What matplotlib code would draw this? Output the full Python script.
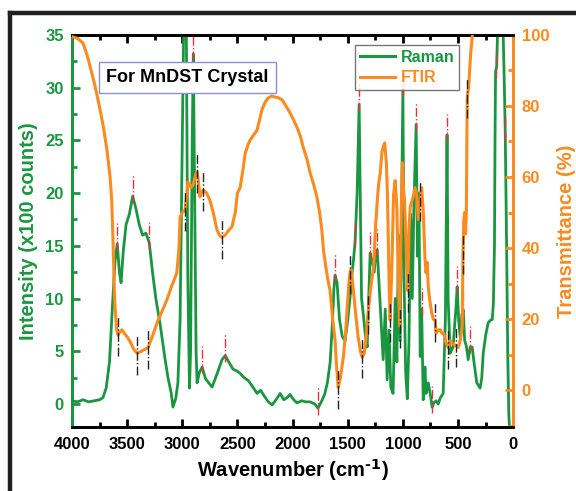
import numpy as np
import matplotlib
matplotlib.use("Agg")
import matplotlib.pyplot as plt
from matplotlib.lines import Line2D
from matplotlib.ticker import MultipleLocator

plt.rcParams['font.family'] = ['Liberation Sans', 'DejaVu Sans']
plt.rcParams['font.weight'] = 'bold'

GREEN = '#1b9640'
ORANGE = '#fb8a1f'

# Raman spectrum (wavenumber, intensity x100 counts)
raman_wn = [4000, 3950, 3900, 3850, 3800, 3750, 3720, 3690, 3660, 3635, 3610, 3590, 3570, 3555,
            3535, 3510, 3480, 3450, 3420, 3390, 3360, 3330, 3300, 3270, 3240, 3200, 3160, 3130,
            3100, 3085, 3060, 3040, 3020, 3000, 2985, 2965, 2950, 2935, 2925, 2910, 2900, 2890,
            2875, 2866, 2845, 2820, 2790, 2730, 2680, 2640, 2610, 2580, 2540, 2500, 2476, 2440,
            2400, 2360, 2322, 2290, 2260, 2220, 2186, 2150, 2113, 2080, 2050, 2023, 1990, 1960,
            1920, 1880, 1840, 1800, 1770, 1740, 1710, 1685, 1660, 1640, 1625, 1615, 1597, 1575,
            1550, 1524, 1500, 1478, 1460, 1445, 1433, 1415, 1397, 1385, 1375, 1360, 1340, 1324,
            1310, 1297, 1280, 1260, 1245, 1233, 1215, 1200, 1179, 1160, 1143, 1125, 1110, 1089,
            1070, 1055, 1040, 1025, 1010, 1000, 990, 975, 960, 945, 930, 915, 900, 880, 868, 855,
            843, 830, 816, 800, 790, 770, 750, 735, 720, 700, 680, 660, 635, 615, 600, 590, 572,
            545, 520, 508, 495, 481, 465, 453, 440, 425, 408, 390, 372, 355, 330, 300, 285, 272,
            250, 227, 200, 190, 180, 170, 165, 160, 150, 140, 130, 110, 95, 80, 72, 60, 50, 40, 30]
raman_int = [0.3, 0.2, 0.4, 0.2, 0.3, 0.4, 0.6, 1.5, 4.0, 9.0, 13.5, 15.2, 12.5, 11.5,
             14.5, 17.0, 18.0, 19.7, 18.5, 17.0, 16.0, 16.2, 15.3, 12.5, 10.0, 7.5, 4.5, 2.5,
             1.0, -0.3, 0.5, 2.0, 8.0, 25.0, 38.0, 38.0, 12.0, 1.5, 5.0, 25.0, 33.2, 22.0,
             5.0, 2.0, 3.0, 3.5, 2.4, 1.6, 3.0, 4.2, 4.6, 4.0, 3.3, 3.1, 2.9, 2.5,
             2.2, 1.6, 1.0, 1.3, 0.8, 0.2, -0.1, 0.4, 1.0, 0.4, 0.6, 0.9, 0.4, 0.1,
             0.3, 0.2, 0.2, 0.0, -0.4, 0.2, 0.9, 2.0, 3.9, 7.5, 11.0, 12.2, 11.5, 8.0,
             6.4, 6.0, 8.0, 10.2, 12.5, 14.0, 15.5, 20.0, 28.4, 18.0, 10.0, 8.6, 6.5, 5.4,
             10.0, 14.3, 13.6, 12.5, 14.6, 14.6, 11.1, 8.0, 4.2, 9.0, 2.3, 7.0, 1.6, 1.0,
             10.0, 4.0, 16.0, 6.0, 20.0, 29.8, 12.0, 3.0, 0.5, 6.0, 18.0, 10.0, 19.0, 26.5, 14.0, 20.0,
             4.5, 9.0, 0.4, 3.5, 1.0, 2.0, 0.8, -0.3, 0.1, 0.3, 0.0, 0.6, 1.0, 8.0, 25.5, 10.0, 4.8,
             5.4, 9.0, 11.1, 8.0, 6.4, 8.5, 8.9, 6.0, 5.5, 4.2, 5.4, 5.4, 3.9, 2.0, 1.5, 2.5, 4.8,
             6.5, 7.7, 8.0, 8.0, 9.5, 15.0, 25.0, 31.5, 32.0, 36.0, 38.0, 38.0, 37.0, 30.0, 25.5,
             15.0, 5.0, -1.0, -3.0]

# FTIR spectrum (wavenumber, transmittance %)
ftir_wn = [4000, 3950, 3900, 3860, 3810, 3780, 3746, 3715, 3683, 3655, 3640, 3628, 3618, 3610,
           3595, 3583, 3565, 3547, 3525, 3500, 3470, 3440, 3410, 3380, 3340, 3310, 3280, 3250,
           3220, 3180, 3140, 3100, 3050, 3030, 3020, 3000, 2975, 2960, 2950, 2935, 2920, 2900,
           2880, 2866, 2855, 2840, 2825, 2810, 2780, 2750, 2720, 2685, 2660, 2640, 2610, 2580,
           2550, 2520, 2500, 2476, 2450, 2430, 2405, 2385, 2350, 2322, 2300, 2277, 2250, 2222,
           2190, 2160, 2130, 2095, 2060, 2023, 1990, 1960, 1930, 1905, 1870, 1840, 1810, 1780,
           1755, 1735, 1720, 1700, 1680, 1660, 1640, 1615, 1600, 1587, 1570, 1555, 1540, 1520,
           1505, 1490, 1480, 1470, 1455, 1430, 1406, 1385, 1370, 1350, 1330, 1315, 1295, 1279,
           1265, 1250, 1234, 1220, 1206, 1190, 1179, 1165, 1150, 1140, 1125, 1116, 1100, 1085,
           1070, 1055, 1040, 1030, 1015, 1005, 995, 985, 965, 955, 945, 934, 920, 907, 890, 875,
           860, 843, 830, 815, 800, 790, 780, 770, 755, 740, 725, 708, 700, 690, 675, 662, 645,
           630, 610, 590, 570, 545, 520, 500, 480, 463, 455, 448, 440, 432, 425, 417, 405, 385,
           372, 365]
ftir_tr = [99.5, 99.0, 97.7, 94.0, 88.0, 84.0, 79.0, 74.0, 67.6, 60.0, 53.5, 42.0, 30.0, 23.4,
           17.0, 15.5, 16.5, 17.0, 16.0, 15.0, 13.5, 11.5, 10.4, 10.8, 11.5, 12.0, 14.5, 17.0,
           19.7, 22.5, 25.4, 29.0, 33.0, 40.0, 48.7, 50.0, 50.7, 55.0, 58.6, 58.0, 57.0, 58.0,
           60.5, 61.4, 59.0, 54.4, 55.8, 56.3, 55.5, 53.5, 50.0, 45.0, 43.5, 43.0, 43.7, 45.0,
           46.0, 50.0, 55.5, 57.0, 62.0, 66.7, 69.0, 70.4, 72.0, 73.2, 76.0, 79.0, 81.0, 82.2,
           82.8, 82.5, 82.3, 81.7, 80.0, 78.0, 76.0, 74.0, 71.5, 68.5, 65.0, 61.0, 58.0, 54.4,
           50.0, 45.0, 39.4, 35.0, 31.0, 28.0, 21.0, 14.0, 6.0, 0.8, 3.0, 6.0, 9.3, 16.0,
           23.4, 30.0, 33.0, 34.0, 30.0, 22.0, 15.0, 11.0, 9.3, 10.4, 16.0, 21.7, 28.0, 31.8,
           35.0, 45.0, 52.7, 58.0, 61.0, 67.0, 68.5, 69.6, 64.0, 55.0, 30.0, 19.7, 35.0, 55.0,
           59.0, 51.5, 30.0, 18.0, 50.0, 64.0, 57.0, 53.5, 35.0, 28.0, 45.0, 51.5, 53.0, 54.4, 57.0, 55.0,
           48.0, 53.5, 57.0, 50.0, 37.0, 33.0, 36.0, 29.0, 25.0, 22.0, 20.0, 19.7, 16.0, 16.5, 17.0, 17.0, 16.0,
           16.0, 13.5, 12.0, 14.0, 13.0, 12.5, 12.0, 14.0, 17.7, 38.6, 48.0, 50.0, 44.0, 50.0, 82.5, 85.0, 95.0,
           99.4, 103.0]

# peak marker positions
raman_marks = [3590, 3450, 3300, 2900, 2820, 2610, 1770, 1615, 1433, 1397, 1297, 1233,
               1000, 880, 830, 735, 600, 508, 453, 390, 160, 72]
ftir_marks = [3583, 3410, 3310, 2975, 2866, 2810, 2640, 1587, 1480, 1370, 1315, 1116,
              1030, 955, 843, 708, 590, 520, 455, 417]

fig = plt.figure(figsize=(5.76, 4.91), dpi=100)
ax = fig.add_axes([0.125, 0.130, 0.766, 0.799])
ax2 = ax.twinx()

ax.plot(raman_wn, raman_int, color=GREEN, lw=2.0, label='Raman', zorder=3)
ax2.plot(ftir_wn, ftir_tr, color=ORANGE, lw=2.2, label='FTIR', zorder=3)

r_y = np.interp(raman_marks, raman_wn[::-1], raman_int[::-1])
ax.vlines(raman_marks, r_y - 0.6, r_y + 2.0, colors='#e8323c', lw=1.0,
          linestyles='dashdot', zorder=4)
f_y = np.interp(ftir_marks, ftir_wn[::-1], ftir_tr[::-1])
ax2.vlines(ftir_marks, f_y - 6, f_y + 5, colors='#222222', lw=1.0,
           linestyles='dashdot', zorder=4)

ax.set_xlim(4000, 0)
ax.set_ylim(-2.2, 35)
ax2.set_ylim(-10.4, 100)

ax.xaxis.set_major_locator(MultipleLocator(500))
ax.xaxis.set_minor_locator(MultipleLocator(250))
ax.yaxis.set_major_locator(MultipleLocator(5))
ax.yaxis.set_minor_locator(MultipleLocator(2.5))
ax2.yaxis.set_major_locator(MultipleLocator(20))
ax2.yaxis.set_minor_locator(MultipleLocator(10))

ax.tick_params(axis='x', which='both', direction='in', top=True, width=2, colors='black',
               labelsize=12)
ax.tick_params(axis='x', which='major', length=6, pad=7)
ax.tick_params(axis='x', which='minor', length=3.5)
ax.tick_params(axis='y', which='both', direction='in', width=2, colors=GREEN, labelsize=12)
ax.tick_params(axis='y', which='major', length=6, pad=6)
ax.tick_params(axis='y', which='minor', length=3.5)
ax2.tick_params(axis='y', which='both', direction='in', width=2, colors=ORANGE, labelsize=12)
ax2.tick_params(axis='y', which='major', length=6, pad=6)
ax2.tick_params(axis='y', which='minor', length=3.5)

for a in (ax, ax2):
    for s in a.spines.values():
        s.set_linewidth(2)
    a.spines['left'].set_color(GREEN)
    a.spines['right'].set_color(ORANGE)
    a.spines['top'].set_color('black')
    a.spines['bottom'].set_color('black')

for lab in ax.get_xticklabels() + ax.get_yticklabels() + ax2.get_yticklabels():
    lab.set_fontweight('bold')

ax.set_xlabel('Wavenumber (cm$^{\\mathbf{\\text{-}1}}$)', fontsize=14.5, fontweight='bold', labelpad=4)
ax.set_ylabel('Intensity (x100 counts)', fontsize=14.5, fontweight='bold', color=GREEN, labelpad=5)
ax2.set_ylabel('Transmittance (%)', fontsize=14.5, fontweight='bold', color=ORANGE, labelpad=6)

ax.text(0.261, 0.892, 'For MnDST Crystal', transform=ax.transAxes, ha='center', va='center',
        fontsize=13, fontweight='bold', zorder=6,
        bbox=dict(boxstyle='square,pad=0.4', fc='white', ec='#8a8fd0', lw=1))

handles = [Line2D([0], [0], color=GREEN, lw=2.2), Line2D([0], [0], color=ORANGE, lw=2.2)]
leg = ax2.legend(handles, ['Raman', 'FTIR'], loc='upper right', bbox_to_anchor=(0.878, 0.974),
                 borderaxespad=0, frameon=True, fancybox=False, edgecolor='#555555',
                 prop={'weight': 'bold', 'size': 11.5}, handlelength=2.2, handletextpad=0.35,
                 labelspacing=0.35, borderpad=0.3)
leg.get_frame().set_linewidth(1)
leg.set_zorder(10)
for t, c in zip(leg.get_texts(), [GREEN, ORANGE]):
    t.set_color(c)

# outer dark frame (left and top edges)
fig.add_artist(Line2D([0.0175, 0.0175], [0.0, 0.9735], transform=fig.transFigure,
                      color='#231f20', lw=3.2))
fig.add_artist(Line2D([0.0175, 1.0], [0.9735, 0.9735], transform=fig.transFigure,
                      color='#231f20', lw=3.2))

fig.savefig('out.png', dpi=100, facecolor='white')
